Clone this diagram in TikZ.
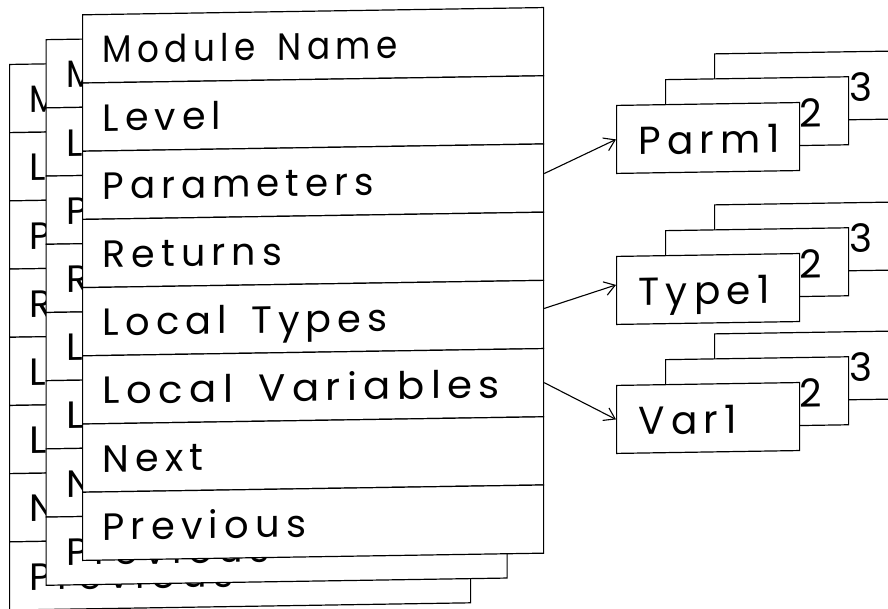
\documentclass[tikz,border=0pt]{standalone}
\usepackage{fontspec}
\usepackage{graphicx}
\setmainfont{Poppins}[LetterSpace=16]
\usetikzlibrary{arrows.meta}

% field labels: large, letter-spaced, with wide word gaps
\newcommand\fieldfont{\fontsize{38}{40}\selectfont}
\newcommand\cardfont{\fontsize{39}{41}\selectfont}
\newcommand\fieldlabel[2]{{\setlength{\spaceskip}{24pt}\scalebox{#2}[1]{#1}}}

\tikzset{
  rowbox/.style={draw, fill=white, line width=1.2pt, anchor=north west,
    inner xsep=20pt, inner ysep=0pt, text width=421pt, align=left,
    text height=48.5pt, text depth=19.7pt, font=\fieldfont},
  cardbox/.style={draw, fill=white, line width=1.2pt, anchor=north west,
    inner xsep=0pt, inner ysep=0pt, text width=183pt, align=left,
    text height=49.5pt, text depth=18.5pt, font=\cardfont},
  link/.style={line width=1.1pt, -{Straight Barb[length=10.5pt,width=14pt]}}
}

\begin{document}
\begin{tikzpicture}[x=1pt,y=-1pt]
\useasboundingbox (0,0) rectangle (888,609);
\begin{scope}[yslant=0.0157, transform shape]
  % three stacked module records, back to front
  \foreach \lab/\sx [count=\i from 0] in {Module Name/0.9,Level/1,Parameters/0.98,Returns/1,Local Types/1.01,Local Variables/1.06,Next/1,Previous/1.01}
    \node[rowbox] (b\i) at (9,{64+\i*68.2}) {\fieldlabel{\lab}{\sx}};
  \foreach \lab/\sx [count=\i from 0] in {Module Name/0.9,Level/1,Parameters/0.98,Returns/1,Local Types/1.01,Local Variables/1.06,Next/1,Previous/1.01}
    \node[rowbox] (m\i) at (45.5,{39.8+\i*68.2}) {\fieldlabel{\lab}{\sx}};
  \foreach \lab/\sx [count=\i from 0] in {Module Name/0.9,Level/1,Parameters/0.98,Returns/1,Local Types/1.01,Local Variables/1.06,Next/1,Previous/1.01}
    \node[rowbox] (f\i) at (82,{15.5+\i*68.2}) {\fieldlabel{\lab}{\sx}};

  % parameter list
  \node[cardbox] (p3) at (714,64.5)  {\hspace*{135pt}3};
  \node[cardbox] (p2) at (665,89.5)  {\hspace*{134pt}2};
  \node[cardbox] (p1) at (616,114.5) {\hspace*{22pt}Parm1};

  % local type list
  \node[cardbox] (t3) at (714,215.5) {\hspace*{135pt}3};
  \node[cardbox] (t2) at (665,240.5) {\hspace*{134pt}2};
  \node[cardbox] (t1) at (616,265.5) {\hspace*{22pt}Type1};

  % local variable list
  \node[cardbox] (v3) at (714,344.5) {\hspace*{135pt}3};
  \node[cardbox] (v2) at (665,369.5) {\hspace*{134pt}2};
  \node[cardbox] (v1) at (616,394.5) {\hspace*{22pt}Var1};

  % pointers from the record fields
  \draw[link] ([yshift=4.5pt]f2.east) -- (p1.west);
  \draw[link] ([yshift=6pt]f4.east) -- ([yshift=5.5pt]t1.west);
  \draw[link] (f5.east) -- (v1.west);
\end{scope}
\end{tikzpicture}
\end{document}
